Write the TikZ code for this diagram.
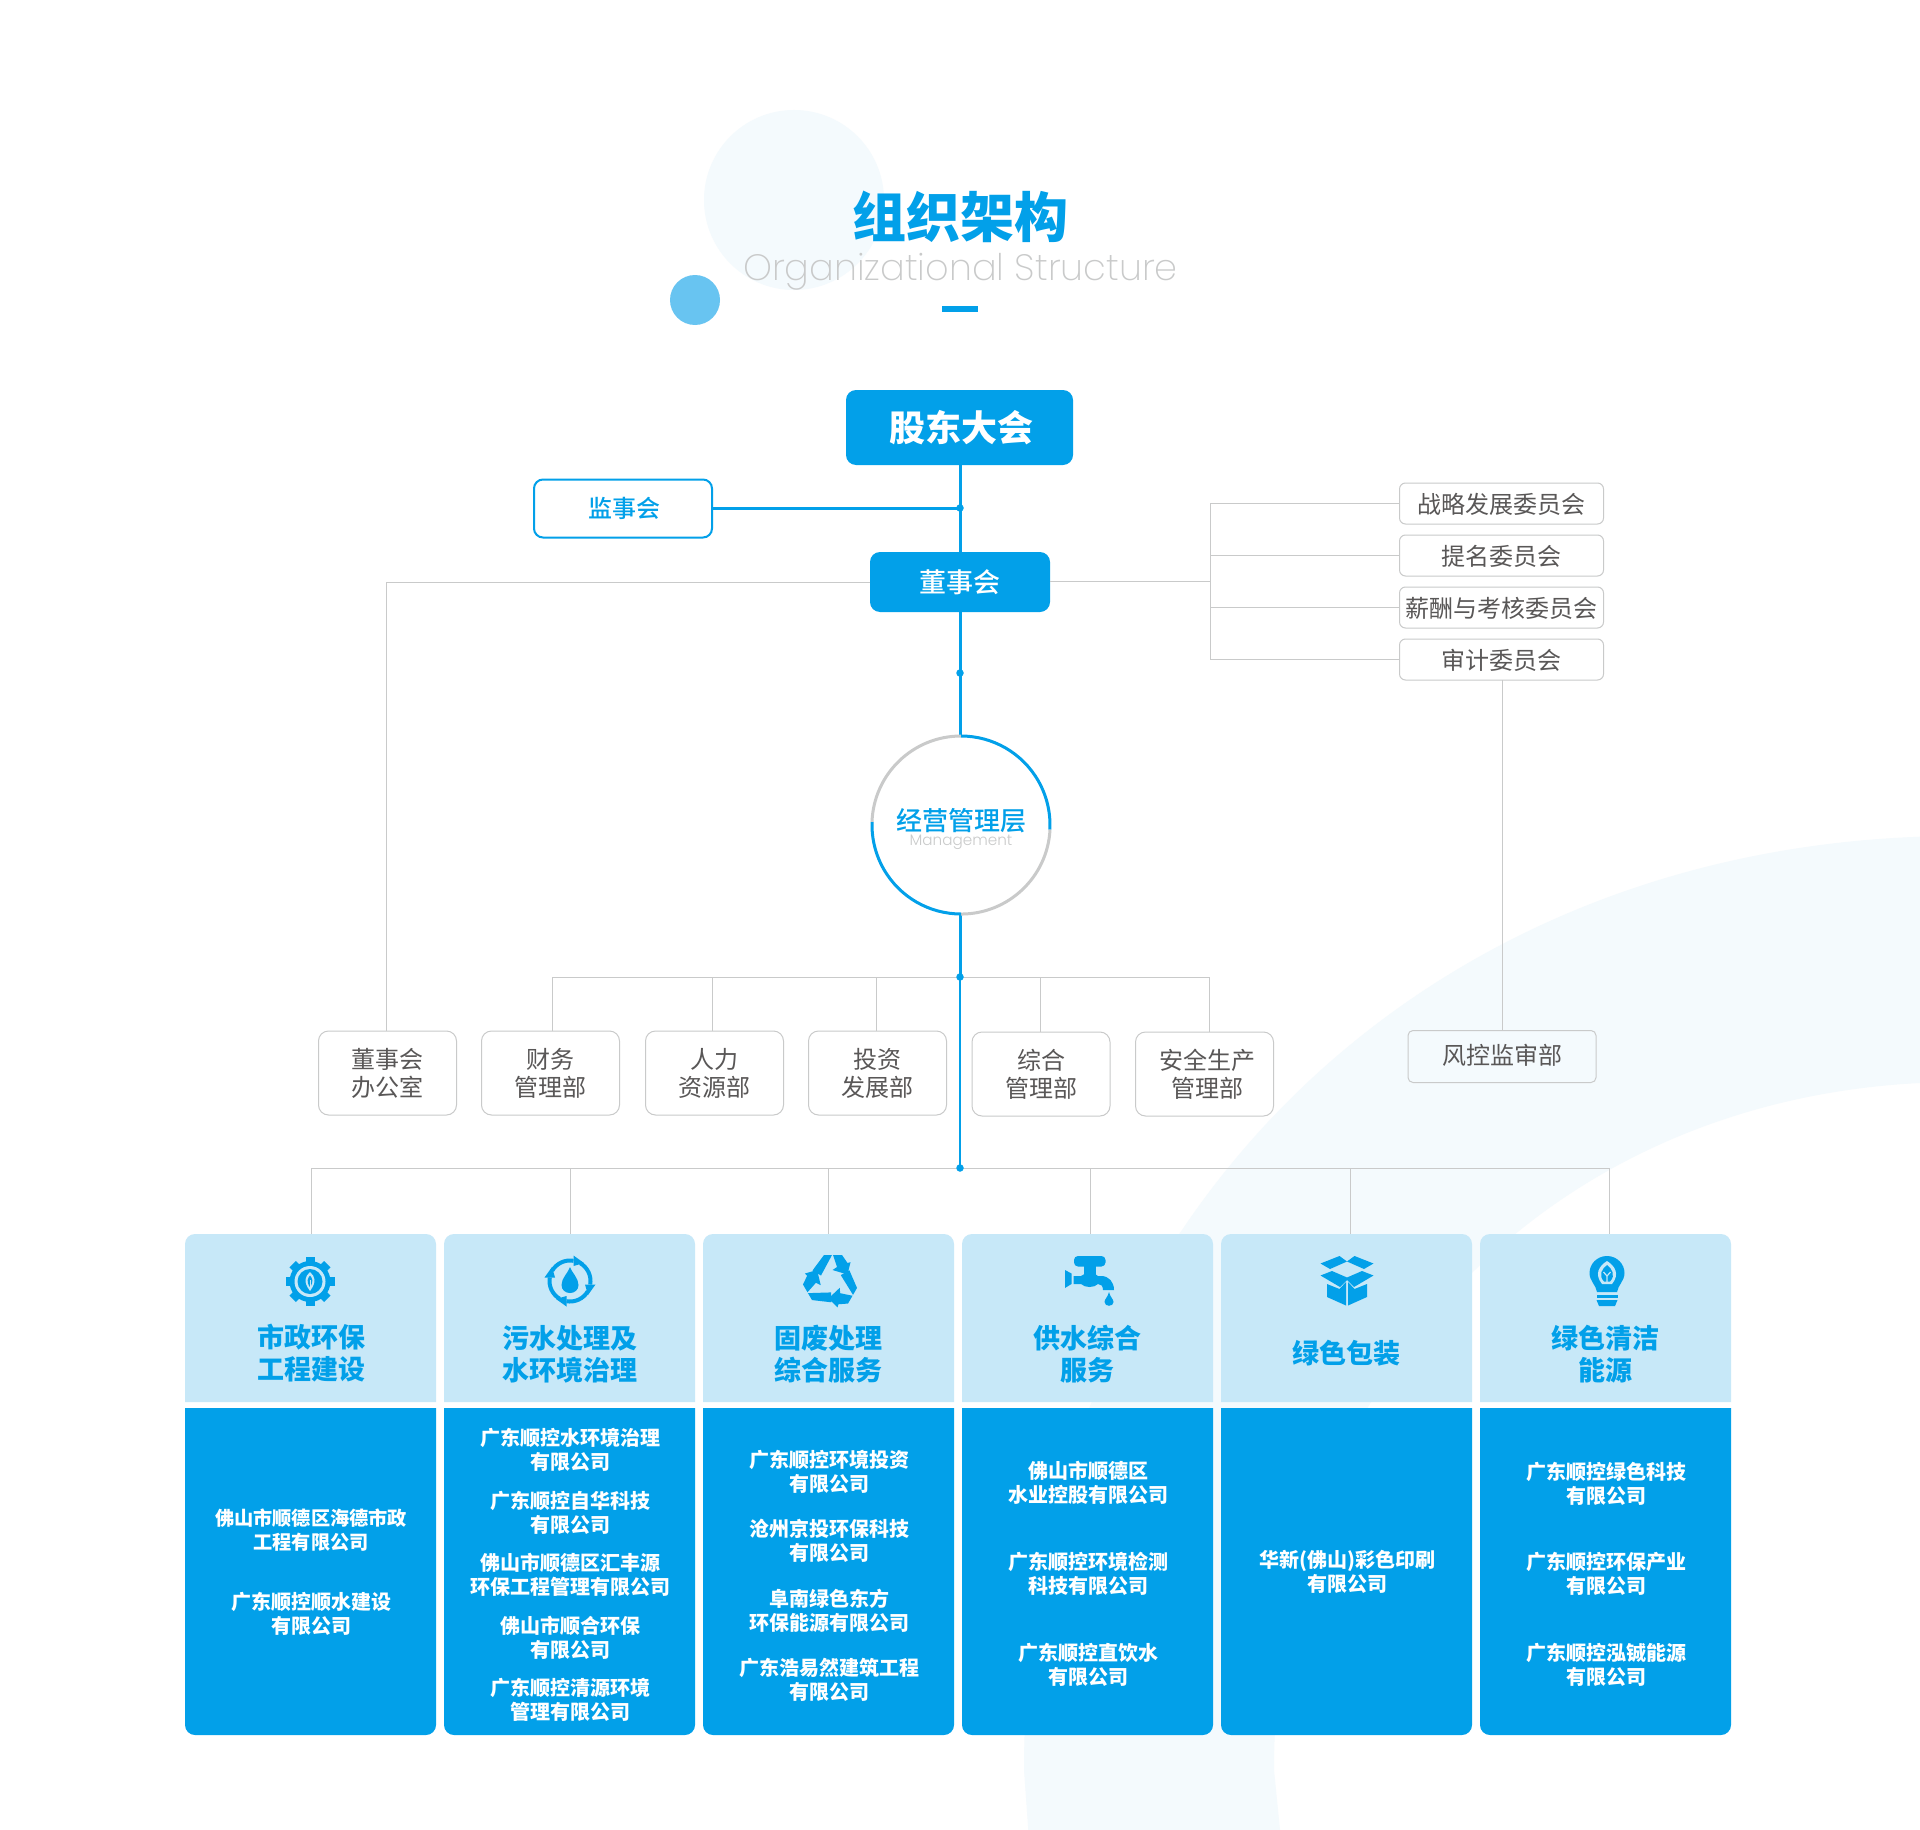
\documentclass[tikz,border=0pt]{standalone}
\usepackage{fontspec}
\setmainfont{Noto Sans CJK SC}
\newfontfamily\midcjk{Noto Sans CJK SC Medium}
\newfontfamily\lightlatin{Poppins ExtraLight}
\newfontfamily\smalllatin{Poppins Light}
\usetikzlibrary{calc}
\definecolor{brand}{HTML}{02A0E9}
\definecolor{pale}{HTML}{C7E8F8}
\definecolor{wash}{HTML}{F4FAFD}
\definecolor{dotc}{HTML}{68C4F1}
\definecolor{rule}{HTML}{C9CACA}
\definecolor{ink}{HTML}{595757}
\newcommand{\fsz}[2]{\fontsize{#1}{#2}\selectfont}
\newcommand{\nudge}[2]{\raisebox{#1}[\height][\depth]{#2}}
\tikzset{
  x=1pt,y=-1pt,
  every node/.style={inner sep=0pt,outer sep=0pt,align=center},
  solidbox/.style={fill=brand,text=white,rounded corners=10pt},
  greybox/.style={draw=rule,line width=1pt,rounded corners=6pt,text=ink,font=\fsz{24}{28}},
  deptbox/.style={greybox,minimum width=138pt,minimum height=84pt,rounded corners=10pt},
  combox/.style={greybox,minimum width=204pt,minimum height=41pt},
  hairline/.style={draw=rule,line width=1pt},
  blueline/.style={draw=brand,line width=3pt},
  thinblue/.style={draw=brand,line width=1.2pt},
  joint/.style={fill=brand,circle,minimum size=7.5pt},
  headtext/.style={text=brand,font=\fsz{27}{32}\bfseries},
  bodytext/.style={text=white,font=\fsz{20}{24}\bfseries},
  headbox/.style={minimum width=251pt,minimum height=168pt},
}
\newcommand{\cardshape}[1]{%
  \fill[pale] (#1,1402) [rounded corners=10pt] -- (#1,1234) -- ({#1+251},1234) [sharp corners] -- ({#1+251},1402) -- cycle;
  \fill[brand] (#1,1408) [rounded corners=10pt] -- (#1,1735) -- ({#1+251},1735) [sharp corners] -- ({#1+251},1408) -- cycle;
}
\begin{document}
\begin{tikzpicture}
\useasboundingbox (0,0) rectangle (1920,1830);
\begin{scope}
\clip (0,0) rectangle (1920,1830);
\fill[white] (0,0) rectangle (1920,1830);
% background ring
\fill[wash] (1960,836) .. controls (1420,836) and (1024,1228) .. (1024,1770) -- (1029,1840)
 -- (1281,1840) -- (1274,1770) .. controls (1274,1371) and (1564,1082) .. (1960,1082) -- cycle;
\end{scope}
% title
\fill[wash] (794,200) circle (90);
\fill[dotc] (695,300) circle (25);
\node (title) at (960,217) {\textcolor{brand}{\fsz{54}{60}\bfseries 组织架构}};
\node (subtitle) at (960.5,272) {\textcolor{rule}{\lightlatin\fsz{36.7}{40}Organizational Structure}};
\fill[brand] (942,306) rectangle (978,312);

% main chain
\node[solidbox,minimum width=227pt,minimum height=75pt,font=\fsz{36}{40}\bfseries] (gm) at (959.5,427.5) {\hspace*{4pt}股东大会};
\node[draw=brand,line width=2pt,rounded corners=9pt,minimum width=178pt,minimum height=58pt,text=brand,font=\midcjk\fsz{24}{28}] (sup) at (623,508.5) {\hspace*{2pt}监事会};
\node[solidbox,minimum width=180pt,minimum height=60pt,font=\midcjk\fsz{27}{32}] (board) at (960,582) {董事会};
\coordinate (mc) at (961,825);
\node[circle,minimum size=178pt] (mgmt) at (mc) {};
\coordinate (jsup) at (960,508);
\coordinate (jb) at (960,673);
\coordinate (jd) at (960,977);
\coordinate (jc) at (960,1168);

% grey connectors
\coordinate (lefttop) at (386.5,582);
\coordinate (spine) at (1210.5,581);
\coordinate (rdown) at (1502,680);
\node[combox] (c1) at (1501.5,503.5) {\nudge{-1.2pt}{战略发展委员会}};
\node[combox] (c2) at (1501.5,555.5) {\nudge{-1.2pt}{提名委员会}};
\node[combox] (c3) at (1501.5,607.5) {\nudge{-1.2pt}{薪酬与考核委员会}};
\node[combox] (c4) at (1501.5,659.5) {\nudge{-1.2pt}{审计委员会}};
\node[greybox,minimum width=188pt,minimum height=52pt,rounded corners=5pt] (risk) at (1502,1056.5) {\nudge{1.2pt}{风控监审部}};
\node[deptbox] (d1) at (387.5,1073) {董事会\\办公室};
\node[deptbox] (d2) at (550.5,1073) {财务\\管理部};
\node[deptbox] (d3) at (714.5,1073) {人力\\资源部};
\node[deptbox] (d4) at (877.5,1073) {投资\\发展部};
\node[deptbox] (d5) at (1041,1074) {综合\\管理部};
\node[deptbox] (d6) at (1204.5,1074) {\hspace*{5pt}安全生产\\\hspace*{5pt}管理部};

\draw[hairline] (board.west) -- (board.west -| lefttop) -- (d1.north -| lefttop);
\draw[hairline] (board.east |- spine) -- (spine);
\draw[hairline] (c1.west) -- (c1.west -| spine) -- (c4.west -| spine) -- (c4.west);
\draw[hairline] (c2.west) -- (c2.west -| spine);
\draw[hairline] (c3.west) -- (c3.west -| spine);
\draw[hairline] (rdown) -- (rdown |- risk.north);

\coordinate (bl) at (552,977);
\coordinate (br) at (1209,977);
\draw[hairline] (d2.north -| bl) -- (bl) -- (br) -- (d6.north -| br);
\draw[hairline] (712,977) -- (712,1031);
\draw[hairline] (876,977) -- (876,1031);
\draw[hairline] (1040.5,977) -- (d5.north -| 1040.5,0);

% cards
\cardshape{185}
\cardshape{444}
\cardshape{703}
\cardshape{962}
\cardshape{1221}
\cardshape{1480}
\node[headbox] (h1) at (310.5,1318) {};
\node[headbox] (h2) at (569.5,1318) {};
\node[headbox] (h3) at (828.5,1318) {};
\node[headbox] (h4) at (1087.5,1318) {};
\node[headbox] (h5) at (1346.5,1318) {};
\node[headbox] (h6) at (1605.5,1318) {};

\coordinate (cl) at (311.5,1168);
\coordinate (cr) at (1609,1168);
\draw[hairline] (h1.north -| cl) -- (cl) -- (cr) -- (h6.north -| cr);
\draw[hairline] (570,1168) -- (h2.north -| 570,0);
\draw[hairline] (828.5,1168) -- (h3.north -| 828.5,0);
\draw[hairline] (1090.5,1168) -- (h4.north -| 1090.5,0);
\draw[hairline] (1350,1168) -- (h5.north -| 1350,0);

% blue spine
\draw[blueline] (gm.south -| jsup) -- (jsup |- board.north);
\draw[blueline] (sup.east |- jsup) -- (jsup);
\draw[blueline] (board.south) -- (960,737);
\draw[blueline] (960,913) -- (jd);
\draw[thinblue] (jd) -- (jc);
\node[joint] (p1) at (jsup) {};
\node[joint] (p2) at (jb) {};
\node[joint] (p3) at (jd) {};
\node[joint] (p4) at (jc) {};

% management circle
\draw[line width=3pt,brand] (961,736) arc[start angle=-90,end angle=3,radius=89];
\draw[line width=3pt,rule] ($(mc)+(89,4.7)$) arc[start angle=3,end angle=90,radius=89];
\draw[line width=3pt,brand] (961,914) arc[start angle=90,end angle=182,radius=89];
\draw[line width=3pt,rule] ($(mc)+(-89,-3.1)$) arc[start angle=182,end angle=270,radius=89];
\node[text=brand,font=\midcjk\fsz{26}{30}] (mt) at (961,821) {经营管理层};
\node[text=rule,font=\smalllatin\fsz{15.2}{18}] (me) at (961,842.5) {Management};

% card headers
\node[headtext] (t1) at (311,1353) {市政环保\\工程建设};
\node[headtext] (t2) at (569.5,1354) {污水处理及\\水环境治理};
\node[headtext] (t3) at (828.5,1354) {固废处理\\综合服务};
\node[headtext] (t4) at (1087.5,1354) {供水综合\\服务};
\node[headtext] (t5) at (1346.5,1353) {绿色包装};
\node[headtext] (t6) at (1605.5,1354) {绿色清洁\\能源};

% card bodies
\node[bodytext,font=\fsz{19.2}{24}\bfseries] (b11) at (311,1529.7) {佛山市顺德区海德市政\\工程有限公司};
\node[bodytext] (b12) at (311,1613.7) {广东顺控顺水建设\\有限公司};
\node[bodytext] (b21) at (570,1449.7) {广东顺控水环境治理\\有限公司};
\node[bodytext] (b22) at (570,1512.7) {广东顺控自华科技\\有限公司};
\node[bodytext] (b23) at (570,1574.7) {佛山市顺德区汇丰源\\环保工程管理有限公司};
\node[bodytext] (b24) at (570,1637.7) {佛山市顺合环保\\有限公司};
\node[bodytext] (b25) at (570,1699.7) {广东顺控清源环境\\管理有限公司};
\node[bodytext] (b31) at (829,1471.7) {广东顺控环境投资\\有限公司};
\node[bodytext] (b32) at (829,1540.7) {沧州京投环保科技\\有限公司};
\node[bodytext] (b33) at (829,1610.7) {阜南绿色东方\\环保能源有限公司};
\node[bodytext] (b34) at (829,1679.7) {广东浩易然建筑工程\\有限公司};
\node[bodytext] (b41) at (1088.5,1482.7) {佛山市顺德区\\水业控股有限公司};
\node[bodytext] (b42) at (1088,1573.7) {广东顺控环境检测\\科技有限公司};
\node[bodytext] (b43) at (1088,1664.7) {广东顺控直饮水\\有限公司};
\node[bodytext] (b51) at (1347,1571.7) {华新(佛山)彩色印刷\\有限公司};
\node[bodytext] (b61) at (1606,1483.7) {广东顺控绿色科技\\有限公司};
\node[bodytext] (b62) at (1606,1573.7) {广东顺控环保产业\\有限公司};
\node[bodytext] (b63) at (1606,1664.7) {广东顺控泓铖能源\\有限公司};

% icon 1: gear with leaf
\begin{scope}[shift={(310,1281.5)}]
  \fill[brand] (0,0) circle (20.5);
  \foreach \a in {0,45,...,315}{
    \fill[brand,rotate=\a] (-4.5,-18) rectangle (4.5,-24.5);
  }
  \fill[pale] (0,0) circle (15.5);
  \fill[brand] (0,0) circle (12.5);
  \fill[pale] (0,-9.5) .. controls (5,-5) and (7,0) .. (0,9.5) .. controls (-7,0) and (-5,-5) .. (0,-9.5) -- cycle;
  \fill[brand] (0,-6) .. controls (2.6,-3) and (3.4,0) .. (0.7,5) -- (-0.7,5) .. controls (-3.4,0) and (-2.6,-3) .. (0,-6) -- cycle;
  \fill[pale] (-0.5,-2) rectangle (0.5,6);
\end{scope}
% icon 2: water cycle
\begin{scope}[shift={(570,1281)}]
  \foreach \a in {0,90,180,270}{
    \begin{scope}[rotate=\a]
      \draw[brand,line width=4pt] (-17.8,-10.25) arc[start angle=210,end angle=280,radius=20.5];
      \fill[brand] (3.5,-25.5) -- (14,-18) -- (3.5,-15) -- cycle;
    \end{scope}
  }
  \fill[brand] (0,-14) .. controls (2,-8) and (8.5,-3) .. (8.5,4) .. controls (8.5,9) and (4.5,12) .. (0,12) .. controls (-4.5,12) and (-8.5,9) .. (-8.5,4) .. controls (-8.5,-3) and (-2,-8) .. (0,-14) -- cycle;
\end{scope}
% icon 3: recycling
\begin{scope}[shift={(831,1281)}]
  \foreach \a in {0,120,240}{
    \begin{scope}[rotate=\a]
      \fill[brand] (-18.5,-10.5) -- (-7,-26) -- (1,-26) -- (-10,-5.5) -- cycle;
      \fill[brand] (2,-26) -- (11,-26) -- (16.5,-18) -- (19.5,-18.8) -- (16.5,-6.5) -- (1.5,-11) -- (6,-14) -- cycle;
    \end{scope}
  }
\end{scope}
% icon 4: tap
\begin{scope}[shift={(1089,1281)}]
  \fill[brand,rounded corners=4pt] (-15,-25) rectangle (16.5,-14.5);
  \fill[brand] (-5,-16) rectangle (6.5,-6);
  \fill[brand] (-24,-11) -- (-17.5,-7.5) -- (-17.5,3) -- (-24,7) -- cycle;
  \fill[brand] (-15.5,-5) -- (-8,-5) .. controls (-4,-9) and (6,-9) .. (9,-5) -- (12,-5) .. controls (20,-5) and (25,1) .. (25,9) -- (14,9) .. controls (14,5) and (12,3) .. (9,3) .. controls (5,7) and (-4,7) .. (-8,3) -- (-15.5,3) -- cycle;
  \fill[brand] (20,11) .. controls (21,16) and (24.5,18) .. (24.5,21) .. controls (24.5,26) and (15.5,26) .. (15.5,21) .. controls (15.5,18) and (19,16) .. (20,11) -- cycle;
\end{scope}
% icon 5: open box
\begin{scope}[shift={(1347,1281)}]
  \foreach \s in {1,-1}{
    \begin{scope}[xscale=\s]
      \fill[brand] (-26.5,-17.5) -- (-7.5,-25) -- (0,-19.5) -- (-17,-12) -- cycle;
      \fill[brand] (-26.5,-5.5) -- (-15,-10) -- (0,-3.5) -- (0,-1) -- (-7,6) -- cycle;
      \fill[brand] (-20,3) -- (-7.5,8) -- (-1,1) -- (-1,24.5) -- (-20,16) -- cycle;
    \end{scope}
  }
\end{scope}
% icon 6: bulb with leaf
\begin{scope}[shift={(1607,1281)}]
  \fill[brand] (0,-25) .. controls (10,-25) and (17.5,-17) .. (17.5,-8) .. controls (17.5,0) and (11,4) .. (10,11) -- (-10,11) .. controls (-11,4) and (-17.5,0) .. (-17.5,-8) .. controls (-17.5,-17) and (-10,-25) .. (0,-25) -- cycle;
  \fill[pale] (0,-20) .. controls (8,-15) and (13,-7) .. (5,3) -- (-5,3) .. controls (-13,-7) and (-8,-15) .. (0,-20) -- cycle;
  \fill[brand] (0,-16) .. controls (5,-12) and (9,-6) .. (3,0.5) -- (-3,0.5) .. controls (-9,-6) and (-5,-12) .. (0,-16) -- cycle;
  \draw[pale,line width=1.2pt] (0,1) -- (0,-5) (0,-5) -- (-3.5,-9) (0,-5) -- (3.5,-9);
  \fill[brand] (-10.5,13.5) rectangle (10.5,17);
  \fill[brand] (-10.5,19) -- (10.5,19) -- (8,25) -- (-8,25) -- cycle;
\end{scope}
\end{tikzpicture}
\end{document}
